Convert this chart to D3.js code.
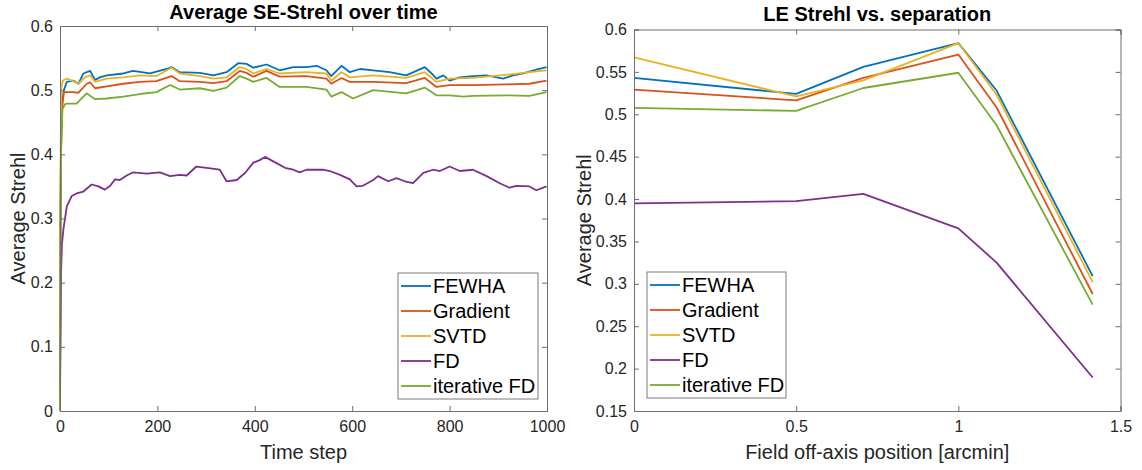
<!DOCTYPE html>
<html><head><meta charset="utf-8">
<script src="https://cdn.jsdelivr.net/npm/d3@7"></script>
<style>body{margin:0;background:#fff}svg{display:block}text{font-family:"Liberation Sans",Arial,sans-serif}</style>
</head><body><svg id="c" width="1142" height="470"></svg>
<script>
// ---------- data ----------
const seriesNames = ["FEWHA", "Gradient", "SVTD", "FD", "iterative FD"];
const seriesColors = ["#0072BD", "#D95319", "#EDB120", "#7E2F8E", "#77AC30"];

// Left panel: average SE-Strehl over time, [time step, strehl]
const seFEWHA = [[0,0],[1,0.3],[2,0.42],[4,0.48],[8,0.5],[14,0.513],[27,0.515],[38,0.51],[48,0.526],[62,0.53],[72,0.516],[82,0.52],[96,0.523],[130,0.526],[150,0.53],[185,0.526],[219,0.533],[229,0.536],[246,0.528],[287,0.527],[315,0.523],[342,0.528],[366,0.542],[383,0.541],[397,0.535],[424,0.54],[451,0.531],[479,0.536],[506,0.536],[527,0.538],[547,0.531],[557,0.522],[578,0.538],[595,0.528],[616,0.533],[643,0.531],[677,0.528],[711,0.523],[749,0.536],[763,0.526],[773,0.518],[787,0.523],[800,0.515],[821,0.52],[848,0.522],[876,0.523],[910,0.518],[930,0.523],[951,0.526],[978,0.532],[999,0.536]];
const seGradient = [[0,0],[1,0.28],[2,0.4],[4,0.47],[8,0.497],[14,0.497],[27,0.497],[38,0.496],[55,0.51],[62,0.512],[72,0.503],[96,0.506],[130,0.51],[164,0.513],[198,0.514],[229,0.522],[246,0.514],[287,0.513],[315,0.511],[342,0.514],[369,0.53],[383,0.527],[397,0.521],[424,0.53],[451,0.521],[506,0.522],[547,0.518],[557,0.51],[578,0.519],[595,0.513],[643,0.513],[711,0.511],[749,0.519],[773,0.505],[800,0.508],[848,0.508],[917,0.509],[964,0.51],[999,0.515]];
const seSVTD = [[0,0],[1,0.35],[2,0.47],[3,0.505],[6,0.515],[14,0.518],[24,0.515],[38,0.51],[51,0.52],[62,0.523],[72,0.513],[96,0.518],[130,0.52],[164,0.523],[198,0.522],[229,0.535],[246,0.526],[287,0.522],[315,0.518],[342,0.52],[369,0.536],[383,0.533],[397,0.526],[424,0.533],[451,0.526],[506,0.528],[547,0.526],[557,0.515],[578,0.528],[595,0.52],[643,0.523],[711,0.519],[749,0.528],[773,0.513],[800,0.518],[848,0.519],[903,0.523],[930,0.525],[964,0.528],[999,0.531]];
const seFD = [[0,0],[1,0.12],[2,0.21],[4,0.26],[7,0.283],[14,0.319],[24,0.335],[34,0.339],[48,0.342],[65,0.353],[79,0.35],[92,0.345],[103,0.351],[113,0.361],[123,0.36],[137,0.367],[150,0.372],[178,0.37],[205,0.372],[226,0.366],[246,0.368],[260,0.367],[280,0.381],[301,0.379],[328,0.376],[342,0.358],[363,0.36],[380,0.371],[397,0.387],[410,0.391],[421,0.396],[438,0.389],[462,0.379],[479,0.376],[492,0.372],[506,0.376],[540,0.376],[554,0.374],[575,0.368],[595,0.361],[609,0.35],[622,0.351],[643,0.36],[653,0.366],[674,0.358],[691,0.363],[708,0.358],[725,0.355],[746,0.371],[766,0.376],[780,0.374],[800,0.381],[821,0.374],[848,0.376],[876,0.366],[903,0.355],[923,0.348],[937,0.351],[964,0.35],[978,0.344],[999,0.35]];
const seIterFD = [[0,0],[1,0.25],[2,0.4],[5,0.47],[10,0.478],[14,0.479],[34,0.479],[44,0.487],[55,0.495],[72,0.486],[96,0.487],[130,0.49],[164,0.494],[198,0.497],[226,0.508],[246,0.501],[287,0.503],[315,0.499],[342,0.504],[369,0.522],[383,0.518],[397,0.513],[424,0.519],[451,0.505],[506,0.505],[547,0.501],[557,0.49],[578,0.497],[602,0.487],[643,0.5],[711,0.495],[749,0.504],[773,0.492],[800,0.492],[828,0.49],[848,0.491],[917,0.492],[964,0.491],[999,0.497]];

// Right panel: LE Strehl vs separation
const separation = [0, 0.5, 0.7071, 1, 1.118, 1.4142];
const leFEWHA    = [0.543, 0.524, 0.556, 0.584, 0.528, 0.309];
const leGradient = [0.529, 0.5165, 0.543, 0.5705, 0.508, 0.288];
const leSVTD     = [0.567, 0.521, 0.540, 0.584, 0.523, 0.302];
const leFD       = [0.395, 0.3975, 0.406, 0.3655, 0.325, 0.1895];
const leIterFD   = [0.5075, 0.504, 0.531, 0.549, 0.487, 0.2755];

const leftXTicks = [0, 200, 400, 600, 800, 1000];
const leftYTicks = [0, 0.1, 0.2, 0.3, 0.4, 0.5, 0.6];
const rightXTicks = [0, 0.5, 1, 1.5];
const rightYTicks = [0.15, 0.2, 0.25, 0.3, 0.35, 0.4, 0.45, 0.5, 0.55, 0.6];

// ---------- drawing ----------
const svg = d3.select("#c");
const axisCol = "#6e6e6e", textCol = "#262626";

function panel(o) {
  const x = d3.scaleLinear().domain(o.xDomain).range([o.l, o.r]);
  const y = d3.scaleLinear().domain(o.yDomain).range([o.b, o.t]);
  const g = svg.append("g");
  const tl = 5;
  const line = d3.line().x(d => x(d[0])).y(d => y(d[1]));
  o.series.forEach((s, i) => {
    g.append("path").attr("d", line(s)).attr("fill", "none")
      .attr("stroke", seriesColors[i]).attr("stroke-width", 1.8).attr("stroke-linejoin", "round");
  });
  const ax = g.append("g").attr("transform", `translate(0,${o.b})`)
    .call(d3.axisBottom(x).tickValues(o.xTicks).tickSize(-tl).tickPadding(10).tickFormat(o.fmtX));
  const axT = g.append("g").attr("transform", `translate(0,${o.t})`)
    .call(d3.axisTop(x).tickValues(o.xTicks).tickSize(-tl).tickFormat(""));
  const ay = g.append("g").attr("transform", `translate(${o.l},0)`)
    .call(d3.axisLeft(y).tickValues(o.yTicks).tickSize(-tl).tickPadding(7).tickFormat(o.fmtY));
  const ayR = g.append("g").attr("transform", `translate(${o.r},0)`)
    .call(d3.axisRight(y).tickValues(o.yTicks).tickSize(-tl).tickFormat(""));
  [ax, axT, ay, ayR].forEach(a => {
    a.select(".domain").attr("stroke", axisCol).attr("stroke-width", 1);
    a.selectAll(".tick line").attr("stroke", axisCol);
    a.selectAll("text").attr("fill", textCol).attr("font-size", 16)
      .attr("font-family", '"Liberation Sans", Arial, sans-serif');
  });
  g.append("text").attr("x", (o.l + o.r) / 2).attr("y", o.titleY).attr("text-anchor", "middle")
    .attr("font-size", 20).attr("font-weight", "bold").attr("fill", "#000").text(o.title);
  g.append("text").attr("x", (o.l + o.r) / 2).attr("y", 459).attr("text-anchor", "middle")
    .attr("font-size", 20).attr("fill", textCol).text(o.xLabel);
  g.append("text").attr("transform", `translate(${o.yLabelX},${(o.t + o.b) / 2}) rotate(-90)`)
    .attr("text-anchor", "middle").attr("font-size", 20).attr("fill", textCol).text("Average Strehl");
  const lg = g.append("g").attr("transform", `translate(${o.leg[0]},${o.leg[1]})`);
  lg.append("rect").attr("x", 0).attr("y", 0).attr("width", o.leg[2]).attr("height", 126)
    .attr("fill", "#fff").attr("stroke", "#7a7a7a").attr("stroke-width", 1);
  seriesNames.forEach((n, i) => {
    const yy = 13 + i * 25;
    lg.append("line").attr("x1", 3).attr("x2", 33).attr("y1", yy).attr("y2", yy)
      .attr("stroke", seriesColors[i]).attr("stroke-width", 1.8);
    lg.append("text").attr("x", 35).attr("y", yy + 7).attr("font-size", 20).attr("fill", "#000").text(n);
  });
}

const fmtLeftY = d => d === 0 ? "0" : d3.format(".1f")(d);
const fmtRightY = d => String(+d.toFixed(2));
const fmtRightX = d => String(+d.toFixed(1));

panel({
  l: 60, r: 547, t: 26, b: 411,
  xDomain: [0, 1000], yDomain: [0, 0.6],
  xTicks: leftXTicks, yTicks: leftYTicks,
  fmtX: d3.format("d"), fmtY: fmtLeftY,
  series: [seFEWHA, seGradient, seSVTD, seFD, seIterFD],
  title: "Average SE-Strehl over time", titleY: 19,
  xLabel: "Time step", yLabelX: 25,
  leg: [398, 273, 140]
});

const pairs = v => separation.map((s, i) => [s, v[i]]);
panel({
  l: 634, r: 1120.5, t: 29.5, b: 411,
  xDomain: [0, 1.5], yDomain: [0.15, 0.6],
  xTicks: rightXTicks, yTicks: rightYTicks,
  fmtX: fmtRightX, fmtY: fmtRightY,
  series: [pairs(leFEWHA), pairs(leGradient), pairs(leSVTD), pairs(leFD), pairs(leIterFD)],
  title: "LE Strehl vs. separation", titleY: 21,
  xLabel: "Field off-axis position [arcmin]", yLabelX: 591,
  leg: [647, 272, 139]
});
</script></body></html>
